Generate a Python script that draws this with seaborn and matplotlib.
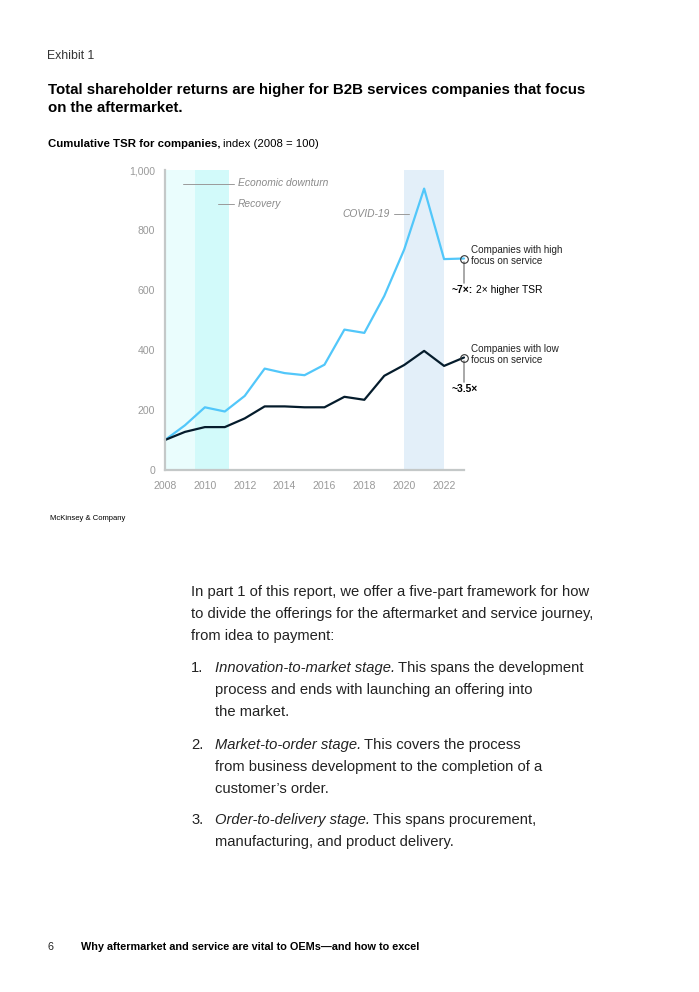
import matplotlib.pyplot as plt
import seaborn as sns
import pandas as pd

# Cumulative TSR, index 2008 = 100
years = list(range(2008, 2024))
high_focus = [100, 149, 209, 195, 247, 338, 323, 316, 351, 468, 457, 580, 735, 938, 703, 705]
low_focus = [100, 127, 143, 143, 172, 212, 212, 209, 209, 244, 234, 314, 350, 397, 347, 375]
series_names = ["Companies with high\nfocus on service", "Companies with low\nfocus on service"]
end_labels = [("~7×:", " 2× higher TSR"), ("~3.5×", "")]
periods = [("Economic downturn", 2008, 2009.5), ("Recovery", 2009.5, 2011.2), ("COVID-19", 2020, 2022)]

W, H = 699, 992
LIGHT = "#52c7fa"
DARK = "#051c2c"
GREY = "#9a9a9a"

sns.set_style("white")
plt.rcParams["font.family"] = ["Liberation Sans", "DejaVu Sans"]

df = pd.DataFrame({
    "year": years * 2,
    "tsr": high_focus + low_focus,
    "group": [series_names[0]] * len(years) + [series_names[1]] * len(years),
})

fig = plt.figure(figsize=(W / 100, H / 100), dpi=100)
fig.patch.set_facecolor("white")
ax = fig.add_axes([165 / W, 1 - 470 / H, (464 - 165) / W, 300 / H])

# shaded periods
ax.axvspan(periods[0][1], periods[0][2], color="#eafdfd", lw=0, zorder=0)
ax.axvspan(periods[1][1], periods[1][2], color="#d2fafa", lw=0, zorder=0)
ax.axvspan(periods[2][1], periods[2][2], color="#e3eff9", lw=0, zorder=0)

sns.lineplot(data=df, x="year", y="tsr", hue="group", palette=[LIGHT, DARK],
             linewidth=1.6, legend=False, ax=ax)
for ln in ax.lines:
    ln.set_clip_on(False)

ax.set_xlim(2008, 2023)
ax.set_ylim(0, 1000)
ax.set_xticks(years)
ax.set_xticklabels([str(y) if y % 2 == 0 and y < 2023 else "" for y in years])
ax.set_yticks(range(0, 1001, 200))
ax.set_yticklabels(["0", "200", "400", "600", "800", "1,000"])
ax.tick_params(axis="both", length=4, width=0.8, color="#b5b5b5", labelcolor=GREY,
               labelsize=7.6, direction="out", pad=3)
ax.tick_params(axis="x", pad=4)
for s in ["top", "right"]:
    ax.spines[s].set_visible(False)
for s in ["left", "bottom"]:
    ax.spines[s].set_color("#c4c8c8")
    ax.spines[s].set_linewidth(1.6)
ax.set_xlabel("")
ax.set_ylabel("")

# period labels
lab_kw = dict(fontsize=7.4, style="italic", color="#8a8a8a", va="center")
ax.plot([2008.9, 2011.45], [955, 955], color=GREY, lw=0.7, clip_on=False)
ax.text(2011.65, 955, periods[0][0], ha="left", **lab_kw)
ax.plot([2010.65, 2011.45], [888, 888], color=GREY, lw=0.7, clip_on=False)
ax.text(2011.65, 888, periods[1][0], ha="left", **lab_kw)
ax.plot([2019.5, 2020.25], [854, 854], color=GREY, lw=0.7, clip_on=False)
ax.text(2019.3, 854, periods[2][0], ha="right", **lab_kw)

fig.canvas.draw()
renderer = fig.canvas.get_renderer()


def runs(x, y, parts, size, color="black"):
    # draw a line of mixed-style text, left to right, starting at pixel x
    for txt, weight, style in parts:
        t = fig.text(x / W, 1 - y / H, txt, fontsize=size, fontweight=weight,
                     style=style, color=color, va="baseline", ha="left")
        bb = t.get_window_extent(renderer)
        x = bb.x1 + size * 0.3
    return x


# end-point markers and labels
for vals, name, (bold, rest) in zip([high_focus, low_focus], series_names, end_labels):
    v = vals[-1]
    ax.plot([2023], [v], marker="o", ms=5.5, mfc="none", mec="#333333", mew=0.8,
            clip_on=False, zorder=5)
    ax.plot([2023, 2023], [v - 10, v - 82], color=GREY, lw=1.2, clip_on=False)
    ax.text(2023.35, v + 10, name, fontsize=7.1, color="#222222", va="center",
            ha="left", linespacing=1.1)
    yb = ax.transData.transform((2022.4, v - 115))
    parts = [(bold, "bold", "normal")]
    if rest:
        parts.append((rest.strip(), "normal", "normal"))
    runs(yb[0], H - yb[1], parts, 7.4)

# header text
runs(47, 59, [("Exhibit 1", "normal", "normal")], 8.8, color="#333333")
runs(48, 94, [("Total shareholder returns are higher for B2B services companies that focus", "bold", "normal")], 10.85)
runs(48, 112, [("on the aftermarket.", "bold", "normal")], 10.85)
runs(48, 147, [("Cumulative TSR for companies,", "bold", "normal"), ("index (2008 = 100)", "normal", "normal")], 8.2)
runs(50, 520, [("McKinsey & Company", "normal", "normal")], 5.5)

# body text
body = 10.6
runs(191, 596, [("In part 1 of this report, we offer a five-part framework for how", "normal", "normal")], body, "#222222")
runs(191, 618, [("to divide the offerings for the aftermarket and service journey,", "normal", "normal")], body, "#222222")
runs(191, 640, [("from idea to payment:", "normal", "normal")], body, "#222222")

items = [
    ("1.", [[("Innovation-to-market stage.", "normal", "italic"), ("This spans the development", "normal", "normal")],
            [("process and ends with launching an offering into", "normal", "normal")],
            [("the market.", "normal", "normal")]], 672),
    ("2.", [[("Market-to-order stage.", "normal", "italic"), ("This covers the process", "normal", "normal")],
            [("from business development to the completion of a", "normal", "normal")],
            [("customer’s order.", "normal", "normal")]], 749),
    ("3.", [[("Order-to-delivery stage.", "normal", "italic"), ("This spans procurement,", "normal", "normal")],
            [("manufacturing, and product delivery.", "normal", "normal")]], 824),
]
for num, lines, y0 in items:
    runs(191, y0, [(num, "normal", "normal")], body, "#222222")
    for i, ln in enumerate(lines):
        runs(215, y0 + 22 * i, ln, body, "#222222")

# footer
runs(47, 950, [("6", "normal", "normal")], 7.8, "#222222")
runs(81, 950, [("Why aftermarket and service are vital to OEMs—and how to excel", "bold", "normal")], 7.8)

fig.savefig("out.png", dpi=100, facecolor="white")
